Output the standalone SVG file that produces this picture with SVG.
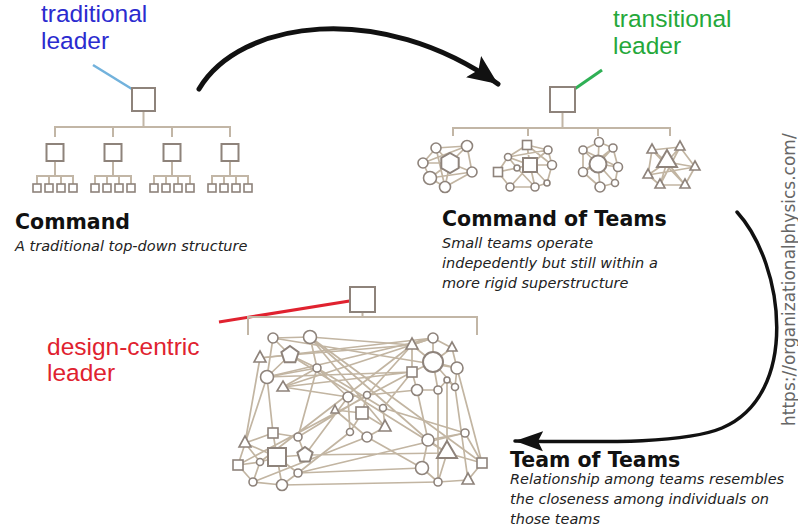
<svg xmlns="http://www.w3.org/2000/svg" width="798" height="530" viewBox="0 0 798 530">
<style>
.bg{fill:#ffffff}
.tr{stroke:#c2b6a6;stroke-width:2;fill:none}
.nd{fill:#ffffff;stroke:#8e837b;stroke-width:2}
.nds{fill:#ffffff;stroke:#8e837b;stroke-width:1.6}
.ed{stroke:#c2b5a2;stroke-width:1.7;fill:none}
.lbl{font-family:"Liberation Sans",Arial,sans-serif;font-size:24.5px}
.ttl{font-family:"DejaVu Sans",Verdana,sans-serif;font-size:20.5px;font-weight:bold;fill:#111}
.dsc{font-family:"DejaVu Sans",Verdana,sans-serif;font-size:14.5px;font-style:italic;fill:#222}
.url{font-family:"DejaVu Sans",Verdana,sans-serif;font-size:17px;fill:#666}
</style>
<defs>
<marker id="ah1" markerUnits="userSpaceOnUse" markerWidth="34" markerHeight="30" refX="30" refY="15" orient="auto">
<path d="M0,2 L30,15 L0,28 L6,15 Z" fill="#111"/>
</marker>
<marker id="ah2" markerUnits="userSpaceOnUse" markerWidth="30" markerHeight="24" refX="28" refY="12" orient="auto">
<path d="M0,2 L28,12 L0,22 L5,12 Z" fill="#111"/>
</marker>
</defs>
<rect class="bg" width="798" height="530"/>

<g id="connectors">
<path d="M199,89 C240,20 380,0 498,84" stroke="#111" stroke-width="5" fill="none" stroke-linecap="round" marker-end="url(#ah1)"/>
<path d="M737,212 C785,265 800,395 722,428 C684,444 600,442 515,441" stroke="#111" stroke-width="3.5" fill="none" stroke-linecap="round" marker-end="url(#ah2)"/>
<line x1="93" y1="65" x2="140" y2="94" stroke="#72b2dc" stroke-width="2.5"/>
<line x1="602" y1="70" x2="563" y2="97" stroke="#2fb055" stroke-width="3"/>
<line x1="219" y1="322" x2="362" y2="299" stroke="#e0222f" stroke-width="3"/>
</g>

<g id="traditional-leader-label">
<text class="lbl" x="41" y="22" fill="#2b2bcf">traditional</text>
<text class="lbl" x="41" y="49" fill="#2b2bcf">leader</text>
</g>
<g id="transitional-leader-label">
<text class="lbl" x="613" y="27" fill="#25a83a">transitional</text>
<text class="lbl" x="613" y="54" fill="#25a83a">leader</text>
</g>
<g id="design-centric-leader-label">
<text class="lbl" x="47" y="355" fill="#e0222f">design-centric</text>
<text class="lbl" x="47" y="381" fill="#e0222f">leader</text>
</g>

<g id="command">
<path class="tr" d="M143.5,111 V127 M55,137 V127 H230 V137 M113,127 V137 M172,127 V137"/>
<path class="tr" d="M55,161 V176 M37,184 V176 H73 V184 M49,176 V184 M61,176 V184 M113,161 V176 M95,184 V176 H131 V184 M107,176 V184 M119,176 V184 M172,161 V176 M154,184 V176 H190 V184 M166,176 V184 M178,176 V184 M230,161 V176 M212,184 V176 H248 V184 M224,176 V184 M236,176 V184"/>
<rect class="nd" x="132" y="88" width="23" height="23"/>
<rect class="nd" x="46.5" y="144" width="17" height="17"/>
<rect class="nd" x="104.5" y="144" width="17" height="17"/>
<rect class="nd" x="163.5" y="144" width="17" height="17"/>
<rect class="nd" x="221.5" y="144" width="17" height="17"/>
<g class="nds">
<rect x="33" y="184" width="8" height="8"/><rect x="45" y="184" width="8" height="8"/><rect x="57" y="184" width="8" height="8"/><rect x="69" y="184" width="8" height="8"/>
<rect x="91" y="184" width="8" height="8"/><rect x="103" y="184" width="8" height="8"/><rect x="115" y="184" width="8" height="8"/><rect x="127" y="184" width="8" height="8"/>
<rect x="150" y="184" width="8" height="8"/><rect x="162" y="184" width="8" height="8"/><rect x="174" y="184" width="8" height="8"/><rect x="186" y="184" width="8" height="8"/>
<rect x="208" y="184" width="8" height="8"/><rect x="220" y="184" width="8" height="8"/><rect x="232" y="184" width="8" height="8"/><rect x="244" y="184" width="8" height="8"/>
</g>
<text class="ttl" x="15" y="229">Command</text>
<text class="dsc" x="15" y="251">A traditional top-down structure</text>
</g>

<g id="command-of-teams">
<path class="tr" d="M562.5,112 V128 M453,136 V128 H670 V136 M528,128 V136 M598,128 V136"/>
<rect class="nd" x="550" y="87" width="25" height="25"/>
<g id="team-1">
<path class="ed" d="M450,163 L436,148 M450,163 L467,146 M450,163 L423,163 M450,163 L472,172 M450,163 L430,178 M450,163 L445,187 M436,148 L467,146 M436,148 L423,163 M467,146 L472,172 M423,163 L430,178 M430,178 L445,187 M445,187 L472,172 M430,178 L472,172 M423,163 L467,146 M436,148 L445,187"/>
<polygon class="nd" points="450,153 458.7,158 458.7,168 450,173 441.3,168 441.3,158"/>
<g class="nds"><circle cx="436" cy="148" r="5"/><circle cx="467" cy="146" r="5.5"/><circle cx="423" cy="163" r="5"/><circle cx="472" cy="172" r="5"/><circle cx="430" cy="178" r="6.5"/><circle cx="445" cy="187" r="5.5"/></g>
</g>
<g id="team-2">
<path class="ed" d="M530,165 L527,145 M530,165 L508,157 M530,165 L548,150 M530,165 L552,165 M530,165 L498,172 M530,165 L517,168 M530,165 L510,187 M530,165 L535,187 M530,165 L547,183 M527,145 L508,157 M527,145 L548,150 M548,150 L552,165 M552,165 L547,183 M498,172 L508,157 M498,172 L510,187 M510,187 L535,187 M535,187 L547,183 M508,157 L517,168 M517,168 L535,187 M498,172 L517,168 M527,145 L552,165 M508,157 L548,150"/>
<rect class="nd" x="523" y="158" width="14" height="14"/>
<g class="nds"><rect x="522.5" y="140.5" width="9" height="9"/><circle cx="508" cy="157" r="3.5"/><circle cx="548" cy="150" r="4"/><circle cx="552" cy="165" r="4.5"/><rect x="493.5" y="167.5" width="9" height="9"/><circle cx="517" cy="168" r="3"/><circle cx="510" cy="187" r="4"/><circle cx="535" cy="187" r="4"/><circle cx="547" cy="183" r="3"/></g>
</g>
<g id="team-3">
<path class="ed" d="M598,164 L599,142 M598,164 L583,150 M598,164 L613,148 M598,164 L583,172 M598,164 L618,167 M598,164 L600,187 M598,164 L615,183 M583,150 L599,142 M599,142 L613,148 M613,148 L618,167 M618,167 L615,183 M615,183 L600,187 M600,187 L583,172 M583,172 L583,150 M583,150 L618,167 M613,148 L583,172"/>
<circle class="nd" cx="598" cy="164" r="8.5" stroke-width="2.5"/>
<g class="nds"><circle cx="599" cy="142" r="4.5"/><circle cx="583" cy="150" r="4"/><circle cx="613" cy="148" r="4"/><circle cx="583" cy="172" r="4.5"/><circle cx="618" cy="167" r="4.5"/><circle cx="600" cy="187" r="5"/><circle cx="615" cy="183" r="3.5"/></g>
</g>
<g id="team-4">
<path class="ed" d="M667,162 L652,150 M667,162 L680,147 M667,162 L648,175 M667,162 L695,167 M667,162 L660,185 M667,162 L685,185 M652,150 L680,147 M680,147 L695,167 M695,167 L685,185 M685,185 L660,185 M660,185 L648,175 M648,175 L652,150 M652,150 L685,185 M680,147 L660,185 M648,175 L695,167"/>
<polygon class="nd" points="667,150 677,167 657,167"/>
<g class="nds"><polygon points="652,144 657,153 647,153"/><polygon points="680,141 685,150 675,150"/><polygon points="648,169 653,178 643,178"/><polygon points="695,161 700,170 690,170"/><polygon points="660,179 665,188 655,188"/><polygon points="685,179 690,188 680,188"/></g>
</g>
<text class="ttl" x="442" y="226">Command of Teams</text>
<text class="dsc" x="442" y="248">Small teams operate</text>
<text class="dsc" x="442" y="268">indepedently but still within a</text>
<text class="dsc" x="442" y="288">more rigid superstructure</text>
</g>

<g id="team-of-teams">
<path class="tr" d="M362.5,312 V317 M248,335 V317 H477 V335"/>
<rect class="nd" x="350" y="287" width="25" height="25"/>
<g id="network-edges">
<path class="ed" d="M273,338 L310,337 M273,338 L290,355 M273,338 L267,377 M260,358 L290,355 M260,358 L245,443 M290,355 L317,368 M290,355 L267,377 M310,337 L317,368 M310,337 L412,345 M310,337 L428,440 M310,337 L385,427 M290,355 L412,345 M267,377 L317,368 M267,377 L412,372 M317,368 L283,387 M317,368 L348,397 M317,368 L383,408 M283,387 L412,372 M283,387 L348,397 M267,377 L238,465 M267,377 L273,433 M317,368 L298,437 M348,397 L367,395 M348,397 L350,432 M367,395 L362,413 M367,395 L412,345 M367,395 L417,390 M335,410 L362,413 M335,410 L367,437 M362,413 L385,427 M362,413 L350,432 M383,408 L385,427 M383,408 L412,372 M383,408 L465,433 M385,427 L367,437 M350,432 L298,473 M367,437 L422,468"/>
<path class="ed" d="M412,345 L433,338 M412,345 L433,362 M412,345 L412,372 M433,338 L433,362 M433,338 L452,348 M452,348 L433,362 M452,348 L457,368 M433,362 L457,368 M433,362 L412,372 M433,362 L438,390 M433,362 L455,387 M457,368 L455,387 M457,368 L482,463 M412,372 L417,390 M417,390 L438,390 M417,390 L428,440 M438,390 L447,380 M455,387 L447,380 M438,390 L438,482 M455,387 L468,480 M447,380 L447,453 M465,433 L428,440 M465,433 L482,463 M428,440 L447,453 M428,440 L422,468 M447,453 L482,463 M447,453 L438,482 M422,468 L438,482 M438,482 L468,480 M482,463 L468,480"/>
<path class="ed" d="M273,433 L298,437 M273,433 L277,457 M273,433 L245,443 M298,437 L305,455 M298,437 L367,395 M305,455 L348,397 M245,443 L277,457 M245,443 L260,462 M277,457 L260,462 M277,457 L305,455 M277,457 L282,485 M277,457 L298,473 M260,462 L238,465 M260,462 L253,482 M305,455 L447,453 M238,465 L253,482 M253,482 L282,485 M282,485 L298,473 M298,473 L422,468 M253,482 L367,437 M282,485 L438,482 M290,355 L447,453 M433,338 L283,387 M412,345 L260,462 M433,338 L267,377 M310,337 L482,463 M260,358 L433,338 M273,338 L457,368 M298,473 L465,433 M238,465 L412,372"/>
</g>
<g id="network-nodes">
<g class="nds">
<circle cx="273" cy="338" r="5"/>
<circle cx="310" cy="337" r="6.5"/>
<polygon points="260,351 266,362 254,362"/>
<circle cx="267" cy="377" r="6.5"/>
<circle cx="317" cy="368" r="4"/>
<polygon points="283,381 289,391 277,391"/>
<circle cx="348" cy="397" r="5"/>
<circle cx="367" cy="395" r="3.5"/>
<polygon points="335,405 339,413 331,413"/>
<rect x="356" y="407" width="12" height="12"/>
<circle cx="383" cy="408" r="3.5"/>
<polygon points="385,420 391,431 379,431"/>
<circle cx="350" cy="432" r="3.5"/>
<circle cx="367" cy="437" r="5"/>
<polygon points="412,338 418,349 406,349"/>
<circle cx="433" cy="338" r="5"/>
<polygon points="452,342 457,351 447,351"/>
<circle cx="457" cy="368" r="6"/>
<rect x="407" y="367" width="10" height="10"/>
<circle cx="417" cy="390" r="5.5"/>
<circle cx="438" cy="390" r="4"/>
<circle cx="455" cy="387" r="3.5"/>
<circle cx="447" cy="380" r="3"/>
<circle cx="465" cy="433" r="4"/>
<circle cx="428" cy="440" r="6"/>
<rect x="477" y="458" width="10" height="10"/>
<circle cx="422" cy="468" r="6.5"/>
<circle cx="438" cy="482" r="4"/>
<polygon points="468,473 474,484 462,484"/>
<rect x="268" y="428" width="10" height="10"/>
<circle cx="298" cy="437" r="4"/>
<polygon points="245,436 251,447 239,447"/>
<circle cx="260" cy="462" r="3.5"/>
<rect x="233" y="460" width="10" height="10"/>
<circle cx="298" cy="473" r="4"/>
<circle cx="253" cy="482" r="4"/>
<circle cx="282" cy="485" r="5.5"/>
</g>
<polygon class="nd" points="290,346 298.6,352.2 295.3,362.3 284.7,362.3 281.4,352.2"/>
<circle class="nd" cx="433" cy="362" r="10"/>
<polygon class="nd" points="447,441 457,458 437,458"/>
<rect class="nd" x="268" y="448" width="18" height="18"/>
<polygon class="nd" points="305,447 312.6,452.5 309.7,461.5 300.3,461.5 297.4,452.5"/>
</g>
<text class="ttl" x="510" y="467">Team of Teams</text>
<text class="dsc" x="510" y="484">Relationship among teams resembles</text>
<text class="dsc" x="510" y="504">the closeness among individuals on</text>
<text class="dsc" x="510" y="524">those teams</text>
</g>

<text class="url" transform="translate(795,426) rotate(-90)">https://organizationalphysics.com/</text>
</svg>
